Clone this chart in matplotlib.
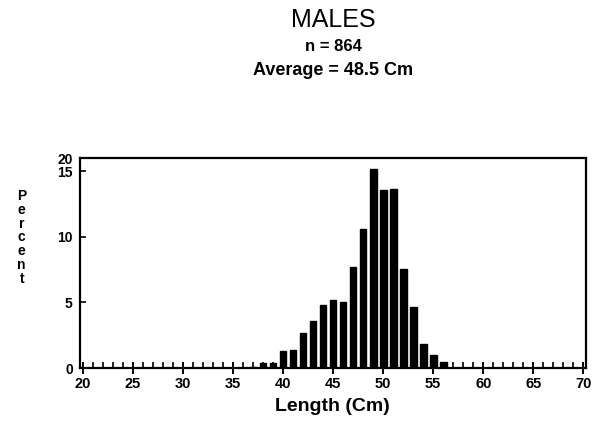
import matplotlib
matplotlib.use("Agg")
import matplotlib.pyplot as plt
from matplotlib.ticker import MultipleLocator

# Length-frequency distribution of males (percent of fish per 1-cm class)
lengths = [37, 38, 39, 40, 41, 42, 43, 44, 45, 46, 47, 48, 49, 50,
           51, 52, 53, 54, 55, 56]
percent = [0.1, 0.35, 0.35, 1.27, 1.34, 2.7, 3.62, 4.8, 5.22, 5.0, 7.7,
           10.6, 15.2, 13.55, 13.65, 7.58, 4.68, 1.8, 0.98, 0.48]

x_ticks = [20, 25, 30, 35, 40, 45, 50, 55, 60, 65, 70]
y_ticks = [0, 5, 10, 15, 16]
y_tick_labels = ["0", "5", "10", "15", "20"]

title = "MALES"
subtitle_n = "n = 864"
subtitle_avg = "Average = 48.5 Cm"

plt.rcParams["font.family"] = ["Liberation Sans", "DejaVu Sans"]

fig = plt.figure(figsize=(6.04, 4.24), dpi=100)
ax = fig.add_axes([0.132, 0.132, 0.838, 0.495])

ax.bar(lengths, percent, width=0.68, color="black", edgecolor="black")

ax.set_xlim(19.7, 70.25)
ax.set_ylim(0, 16)

ax.set_xticks(x_ticks)
ax.set_xticklabels([str(v) for v in x_ticks])
ax.xaxis.set_minor_locator(MultipleLocator(1))
ax.set_yticks(y_ticks)
ax.set_yticklabels(y_tick_labels)

for s in ax.spines.values():
    s.set_linewidth(1.6)
    s.set_color("black")

ax.tick_params(axis="x", which="major", direction="inout", length=9,
               width=1.4, pad=2, labelsize=10.5)
ax.tick_params(axis="x", which="minor", direction="in", length=4.5, width=1.2)
ax.tick_params(axis="y", which="major", direction="in", length=4,
               width=1.2, pad=5, labelsize=10)
for lab in ax.get_xticklabels() + ax.get_yticklabels():
    lab.set_fontweight("bold")

ax.set_xlabel("Length (Cm)", fontsize=14, fontweight="bold", labelpad=5)

fig.text(0.036, 0.44, "\n".join("Percent"), fontsize=10, fontweight="bold",
         ha="center", va="center", linespacing=0.98)

cx = 0.552
fig.text(cx, 0.953, title, fontsize=18, ha="center", va="center")
fig.text(cx, 0.89, subtitle_n, fontsize=12, fontweight="bold",
         ha="center", va="center")
fig.text(cx, 0.833, subtitle_avg, fontsize=13, fontweight="bold",
         ha="center", va="center")

fig.savefig("out.png", dpi=100, facecolor="white")
